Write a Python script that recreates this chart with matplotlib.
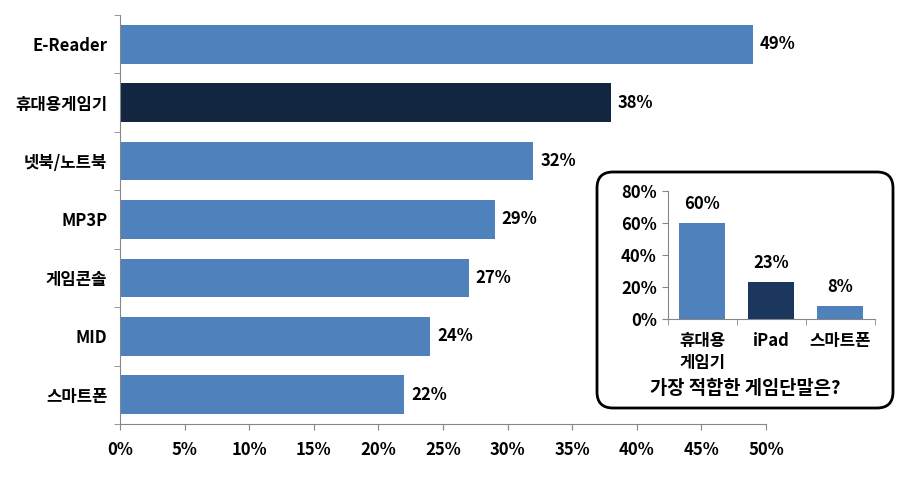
import matplotlib
matplotlib.use("Agg")
import matplotlib.pyplot as plt
from matplotlib.patches import FancyBboxPatch
import numpy as np

plt.rcParams['font.family'] = ['Noto Sans CJK KR', 'DejaVu Sans']
plt.rcParams['font.weight'] = 'bold'

# main chart data
devices = ['E-Reader', '휴대용게임기', '넷북/노트북', 'MP3P', '게임콘솔', 'MID', '스마트폰']
shares = [49, 38, 32, 29, 27, 24, 22]
highlight = '휴대용게임기'
x_ticks = [0, 5, 10, 15, 20, 25, 30, 35, 40, 45, 50]

# inset data
best_devices = ['휴대용\n게임기', 'iPad', '스마트폰']
best_shares = [60, 23, 8]
best_ticks = [0, 20, 40, 60, 80]
inset_title = '가장 적합한 게임단말은?'

BLUE = '#4f81bd'
NAVY = '#13263f'
NAVY2 = '#1c375e'
GRAY = '#868686'

fig = plt.figure(figsize=(9, 4.78), dpi=100)
ax = fig.add_axes([0.1333, 0.113, 0.7178, 0.8556])

y = np.arange(len(devices))
colors = [NAVY if d == highlight else BLUE for d in devices]
ax.barh(y, shares, height=0.66, color=colors)
for yi, v in zip(y, shares):
    ax.annotate(f'{v}%', (v, yi), xytext=(5, 0), textcoords='offset points',
                va='center', ha='left', fontsize=12, fontweight='bold')

ax.set_ylim(len(devices) - 0.5, -0.5)
ax.set_xlim(0, 50)
ax.set_yticks(y)
ax.set_yticklabels(devices, fontsize=12, fontweight='bold')
ax.set_yticks(np.arange(-0.5, len(devices)), minor=True)
ax.tick_params(axis='y', which='major', length=0, pad=9)
ax.tick_params(axis='y', which='minor', length=4, color=GRAY, direction='out')
ax.set_xticks(x_ticks)
ax.set_xticklabels([f'{t}%' for t in x_ticks], fontsize=12, fontweight='bold')
ax.tick_params(axis='x', length=4, color=GRAY, pad=8)
for s in ['top', 'right']:
    ax.spines[s].set_visible(False)
for s in ['left', 'bottom']:
    ax.spines[s].set_color(GRAY)

# rounded frame around the inset
box = FancyBboxPatch((5.97, 0.70), 2.96, 2.36,
                     boxstyle='round,pad=0,rounding_size=0.16',
                     transform=fig.dpi_scale_trans, facecolor='white',
                     edgecolor='black', linewidth=2, zorder=5)
fig.patches.append(box)

ins = fig.add_axes([0.742, 0.3326, 0.230, 0.2678], zorder=10)
ins.patch.set_alpha(0)
xi = np.arange(len(best_devices))
ins.bar(xi, best_shares, width=0.67, color=[BLUE, NAVY2, BLUE])
for xv, v in zip(xi, best_shares):
    ins.annotate(f'{v}%', (xv, v), xytext=(0, 7), textcoords='offset points',
                 ha='center', va='bottom', fontsize=12, fontweight='bold')
ins.set_xlim(-0.5, len(best_devices) - 0.5)
ins.set_ylim(0, 80)
ins.set_yticks(best_ticks)
ins.set_yticklabels([f'{t}%' for t in best_ticks], fontsize=12, fontweight='bold')
ins.tick_params(axis='y', length=4, color=GRAY, pad=4)
ins.set_xticks(xi)
ins.set_xticklabels(best_devices, fontsize=12, fontweight='bold', va='top',
                    linespacing=1.3)
ins.set_xticks(np.arange(-0.5, len(best_devices)), minor=True)
ins.tick_params(axis='x', which='major', length=0, pad=9)
ins.tick_params(axis='x', which='minor', length=4, color=GRAY)
for s in ['top', 'right']:
    ins.spines[s].set_visible(False)
for s in ['left', 'bottom']:
    ins.spines[s].set_color(GRAY)

fig.text(745 / 900, 1 - 389 / 478, inset_title, ha='center', va='center',
         fontsize=13.5, fontweight='bold', zorder=11)

fig.savefig('out.png', dpi=100)
